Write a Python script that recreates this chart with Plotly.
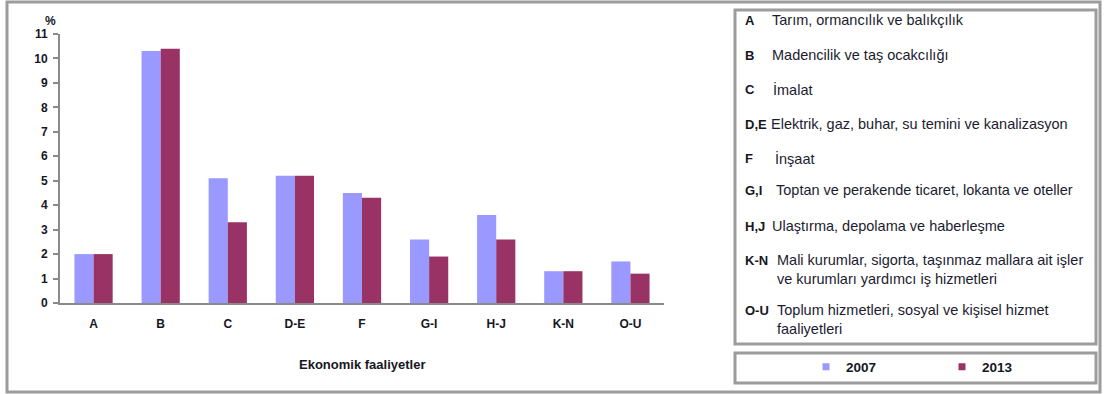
import plotly.graph_objects as go

# ---- data ----
categories = ["A", "B", "C", "D-E", "F", "G-I", "H-J", "K-N", "O-U"]
values_2007 = [2.0, 10.3, 5.1, 5.2, 4.5, 2.6, 3.6, 1.3, 1.7]
values_2013 = [2.0, 10.4, 3.3, 5.2, 4.3, 1.9, 2.6, 1.3, 1.2]
series_names = ["2007", "2013"]
code_labels = ["A", "B", "C", "D,E", "F", "G,I", "H,J", "K-N", "O-U"]
code_descriptions = [
    "Tarım, ormancılık ve balıkçılık",
    "Madencilik ve taş ocakcılığı",
    "İmalat",
    "Elektrik, gaz, buhar, su temini ve kanalizasyon",
    "İnşaat",
    "Toptan ve perakende ticaret, lokanta ve oteller",
    "Ulaştırma, depolama ve haberleşme",
    "Mali kurumlar, sigorta, taşınmaz mallara ait işler<br>ve kurumları yardımcı iş hizmetleri",
    "Toplum hizmetleri, sosyal ve kişisel hizmet<br>faaliyetleri",
]
x_title = "Ekonomik faaliyetler"
y_unit = "%"

# ---- layout helpers (pixel -> paper) ----
W, H = 1104, 394
def px(x):
    return x / W
def py(y):
    return 1 - y / H

colors = ["#9999FF", "#993366"]
text_color = "#16161e"
frame_color = "#9c9c9c"
FONT = "Liberation Sans, Arial, sans-serif"
CODE_SIZE, DESC_SIZE = 13, 14.5

fig = go.Figure()
for name, vals, col in zip(series_names, [values_2007, values_2013], colors):
    fig.add_trace(go.Bar(x=categories, y=vals, name=name, marker_color=col,
                         marker_line_width=0, showlegend=False))

legend_ids = ["legend", "legend2"]
for name, col, lid in zip(series_names, colors, legend_ids):
    fig.add_trace(go.Scatter(x=[None], y=[None], mode="markers", name=name,
                             marker=dict(symbol="square", size=7, color=col),
                             legend=lid, showlegend=True, hoverinfo="skip"))

legend_style = dict(orientation="h", yanchor="middle", y=py(367), xanchor="left",
                    bgcolor="rgba(0,0,0,0)", borderwidth=0,
                    font=dict(family=FONT, size=13.5, color=text_color, weight="bold"))

fig.update_layout(
    width=W, height=H, autosize=False,
    margin=dict(l=0, r=0, t=0, b=0, pad=0, autoexpand=False),
    paper_bgcolor="white", plot_bgcolor="white",
    barmode="group", bargap=0.43, bargroupgap=0,
    font=dict(family=FONT, color=text_color),
    xaxis=dict(domain=[px(60), px(664)], range=[-0.5, 8.5], showline=True,
               linecolor="#8a8a8a", linewidth=2, ticks="", showgrid=False,
               tickfont=dict(size=12, weight="bold", color=text_color),
               ticklabelstandoff=9, fixedrange=True),
    yaxis=dict(domain=[py(303), py(34)], range=[0, 11], dtick=1, showline=True,
               linecolor="#8a8a8a", linewidth=2, ticks="outside", ticklen=5,
               tickwidth=2, tickcolor="#8a8a8a", showgrid=False, zeroline=False,
               tickfont=dict(size=12, weight="bold", color=text_color),
               ticklabelstandoff=3, fixedrange=True),
    legend=dict(x=px(806), **legend_style),
    legend2=dict(x=px(942), **legend_style),
    hovermode=False,
)

shapes = [
    dict(type="rect", xref="paper", yref="paper", x0=px(7), x1=px(1100), y0=py(392), y1=py(2),
         line=dict(color=frame_color, width=3)),
    dict(type="rect", xref="paper", yref="paper", x0=px(735), x1=px(1096), y0=py(344), y1=py(10),
         line=dict(color=frame_color, width=3)),
    dict(type="rect", xref="paper", yref="paper", x0=px(735), x1=px(1096), y0=py(383), y1=py(353),
         line=dict(color=frame_color, width=3)),
]
fig.update_layout(shapes=shapes)

annotations = [
    dict(text=y_unit, x=px(50), y=py(21), xref="paper", yref="paper", showarrow=False,
         xanchor="center", yanchor="middle",
         font=dict(size=12, weight="bold", color=text_color)),
    dict(text=x_title, x=px(362), y=py(364), xref="paper", yref="paper", showarrow=False,
         xanchor="center", yanchor="middle",
         font=dict(size=13, weight="bold", color=text_color)),
]
code_y = [20, 55, 89, 124, 158, 190, 226, 260, 310]
desc_x = [770, 770, 771, 769, 773, 774, 770, 775, 775]
for code, desc, yy, dx in zip(code_labels, code_descriptions, code_y, desc_x):
    annotations.append(dict(text=code, x=px(743), y=py(yy - 0.66 * CODE_SIZE), xref="paper",
                            yref="paper", xanchor="left", yanchor="top", showarrow=False,
                            font=dict(size=CODE_SIZE, weight="bold", color=text_color)))
    annotations.append(dict(text=desc, x=px(dx), y=py(yy - 0.66 * DESC_SIZE), xref="paper",
                            yref="paper", xanchor="left", yanchor="top", align="left",
                            showarrow=False,
                            font=dict(size=DESC_SIZE, color="#1c1c30")))
fig.update_layout(annotations=annotations)

fig.write_html("out.html", config={"displayModeBar": False, "responsive": False})
